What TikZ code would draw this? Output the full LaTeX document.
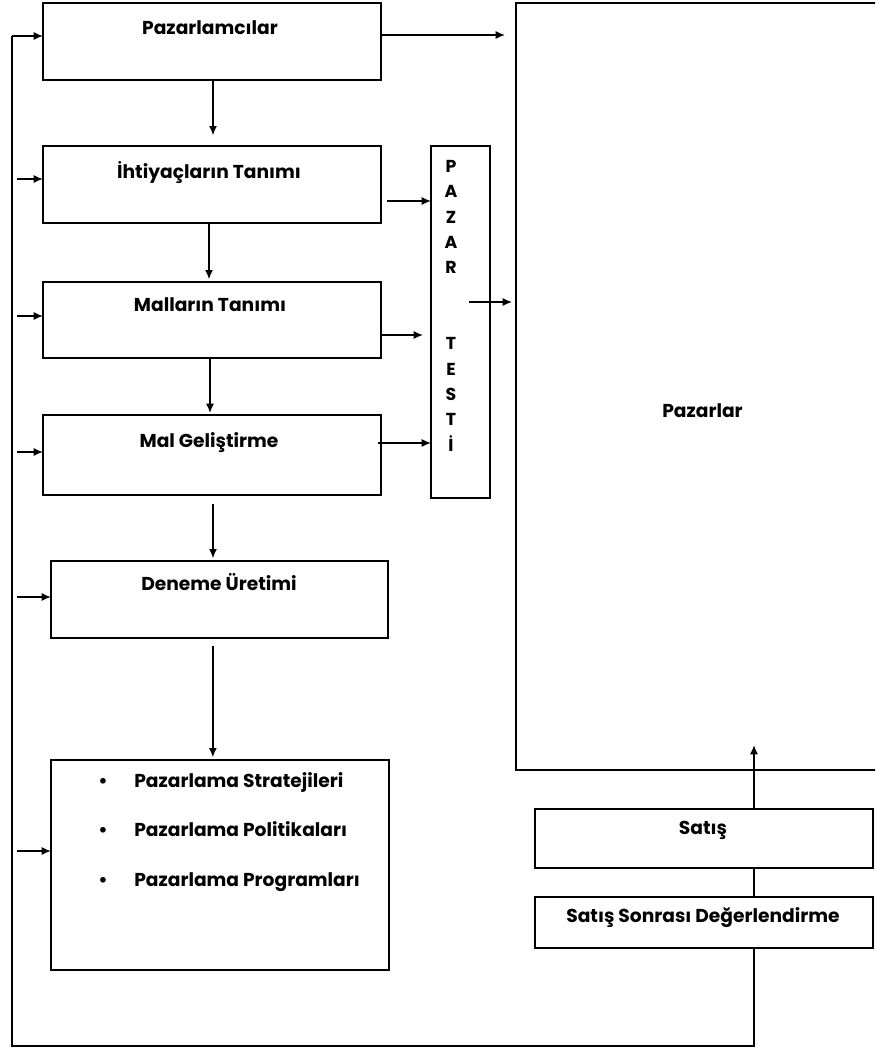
\documentclass[tikz,border=0pt]{standalone}
\usepackage{fontspec}
\setmainfont{Poppins}
\usetikzlibrary{arrows.meta}

\begin{document}
\begin{tikzpicture}[
  x=0.75pt, y=-0.75pt,
  sz/.style 2 args={minimum width={#1*0.75pt}, minimum height={#2*0.75pt}},
  box/.style={draw, line width=1.4pt, inner sep=0pt, outer sep=0pt},
  txt/.style={inner sep=0pt, font=\bfseries\fontsize{14}{17}\selectfont},
  arr/.style={line width=1.1pt, -{Latex[length=7pt,width=6pt]}},
  ln/.style={line width=1.1pt},
]
\useasboundingbox (0,0) rectangle (875,1049);
\clip (0,0) rectangle (875,1049);

% process boxes on the left
\node[box, sz={338}{77}]  (b1) at (212,41.5) {};
\node[box, sz={338}{77}]  (b2) at (212,184.5) {};
\node[box, sz={338}{76}]  (b3) at (212,320) {};
\node[box, sz={338}{80}]  (b4) at (212,455) {};
\node[box, sz={337}{77}]  (b5) at (219.5,599.5) {};
\node[box, sz={338}{210}] (b6) at (220,865) {};

% market test column, markets, sales
\node[box, sz={59}{352}]  (testi) at (460.5,322) {};
\node[box, sz={374}{767}] (pazar) at (703,386.5) {};
\node[box, sz={338}{59}]  (satis) at (704,838.5) {};
\node[box, sz={338}{51}]  (sonra) at (704,922.5) {};

% labels
\node[txt, anchor=base] (l1) at (210,35) {Pazarlamcılar};
\node[txt, anchor=base] (l2) at (209,178) {İhtiyaçların Tanımı};
\node[txt, anchor=base] (l3) at (210,311) {Malların Tanımı};
\node[txt, anchor=base] (l4) at (209,447) {Mal Geliştirme};
\node[txt, anchor=base] (l5) at (219,590) {Deneme Üretimi};
\node[txt, anchor=base] (d1) at (103,787) {•};
\node[txt, anchor=base] (d2) at (103,836) {•};
\node[txt, anchor=base] (d3) at (103,886) {•};
\node[txt, anchor=base west] (s1) at (134,787) {Pazarlama Stratejileri};
\node[txt, anchor=base west] (s2) at (134,836) {Pazarlama Politikaları};
\node[txt, anchor=base west] (s3) at (134,886) {Pazarlama Programları};
\node[txt, anchor=north, align=center, font=\bfseries\fontsize{13}{19}\selectfont]
  (lt) at (451,160) {P\\A\\Z\\A\\R\\ \\ \\T\\E\\S\\T\\İ};
\node[txt, anchor=base west] (lp) at (662,417) {Pazarlar};
\node[txt, anchor=base] (ls) at (703,834) {Satış};
\node[txt, anchor=base] (lso) at (703,922) {Satış Sonrası Değerlendirme};

% main downward flow
\draw[arr, shorten >=8pt] ([xshift=0.75pt]b1.south) -- ([xshift=0.75pt]b2.north);
\draw[arr, shorten >=2pt] ([xshift=-2.25pt]b2.south) -- ([xshift=-2.25pt]b3.north);
\draw[arr, shorten >=1.5pt] ([xshift=-1.5pt]b3.south) -- ([xshift=-1.5pt]b4.north);
\draw[arr, shorten <=6.5pt, shorten >=2pt] ([xshift=0.75pt]b4.south) -- ([xshift=0.75pt]b4.south |- b5.north);
\draw[arr, shorten <=6pt, shorten >=2pt] ([xshift=-5pt]b5.south) -- ([xshift=-5pt]b5.south |- b6.north);

% into the market test and the markets
\coordinate (p1) at (505,35);
\draw[arr] (p1 -| b1.east) -- (p1);
\coordinate (t2) at (387,201);
\draw[arr] (t2) -- (t2 -| testi.west);
\coordinate (t3) at (423,335);
\draw[arr] (t3 -| b3.east) -- (t3);
\coordinate (t4) at (378,443);
\draw[arr] (t4) -- (t4 -| testi.west);
\coordinate (tp) at (469,302);
\draw[arr, shorten >=3pt] (tp) -- (tp -| pazar.west);

% sales into the markets
\coordinate (sp) at (754,745);
\draw[arr] (satis.north -| sp) -- (sp);
\draw[ln] (satis.south -| sp) -- (sonra.north -| sp);

% feedback loop
\coordinate (fb) at (12,1046);
\coordinate (fbtop) at (12,36);
\draw[ln] (sonra.south -| sp) -- (sp |- fb) -- (fb) -- (fbtop);
\draw[arr] (fbtop) -- (fbtop -| b1.west);

% side inputs from the feedback line
\coordinate (in2) at (17,179);
\coordinate (in3) at (17,316);
\coordinate (in4) at (17,452);
\coordinate (in5) at (17,597);
\coordinate (in6) at (17,851);
\draw[arr] (in2) -- (in2 -| b2.west);
\draw[arr] (in3) -- (in3 -| b3.west);
\draw[arr] (in4) -- (in4 -| b4.west);
\draw[arr] (in5) -- (in5 -| b5.west);
\draw[arr] (in6) -- (in6 -| b6.west);
\end{tikzpicture}
\end{document}
